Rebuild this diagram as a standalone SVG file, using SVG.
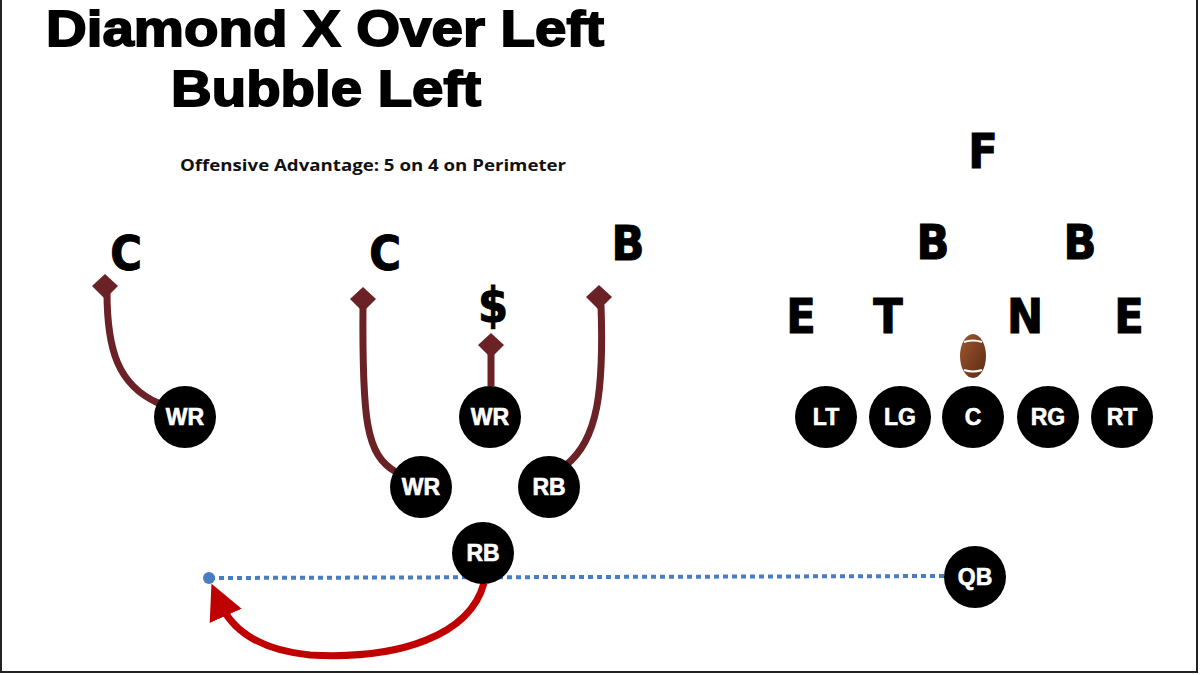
<svg xmlns="http://www.w3.org/2000/svg" width="1200" height="675" viewBox="0 0 1200 675">
<style>
.title{font-family:"Liberation Sans",Arial,sans-serif;font-weight:bold;font-size:50px;fill:#000;stroke:#000;stroke-width:1.8;text-anchor:middle}
.sub{font-family:"Open Sans","Noto Sans",sans-serif;font-weight:bold;font-size:16px;fill:#111}
.def{font-family:"DejaVu Sans Condensed","DejaVu Sans",sans-serif;font-stretch:condensed;font-weight:bold;font-size:48px;fill:#000;text-anchor:middle;stroke:#000;stroke-width:1}
.node circle{fill:#000}
.node text{font-family:"Liberation Sans",Arial,sans-serif;font-weight:bold;font-size:23px;fill:#fff;stroke:#fff;stroke-width:0.6;text-anchor:middle}
.route{fill:none;stroke:#6b2226;stroke-width:7}
.tip{fill:#6b2226}
</style>
<defs>
<linearGradient id="ball" x1="0" y1="0" x2="1" y2="1">
<stop offset="0" stop-color="#a0582d"/><stop offset="1" stop-color="#5a2a14"/>
</linearGradient>
<marker id="redArrow" viewBox="0 0 10 10" refX="4" refY="5" markerWidth="5" markerHeight="5" orient="auto-start-reverse" markerUnits="strokeWidth">
<path d="M0,0 L10,5 L0,10 z" fill="#c00000"/>
</marker>
</defs>
<rect x="1" y="-2" width="1196" height="674" fill="#fff" stroke="#222" stroke-width="2"/>
<text class="title" x="325" y="46" textLength="558" lengthAdjust="spacingAndGlyphs">Diamond X Over Left</text>
<text class="title" x="326" y="106" textLength="310" lengthAdjust="spacingAndGlyphs">Bubble Left</text>
<text class="sub" x="180" y="171" textLength="386" lengthAdjust="spacingAndGlyphs">Offensive Advantage: 5 on 4 on Perimeter</text>
<g id="defense">
<text class="def" x="126" y="270">C</text>
<text class="def" x="385" y="270">C</text>
<text class="def" x="628" y="260">B</text>
<text class="def" x="493" y="322">$</text>
<text class="def" x="983" y="168">F</text>
<text class="def" x="933" y="259">B</text>
<text class="def" x="1080" y="259">B</text>
<text class="def" x="801" y="333">E</text>
<text class="def" x="888" y="333">T</text>
<text class="def" x="1025" y="333">N</text>
<text class="def" x="1129" y="333">E</text>
</g>
<g id="connectors">
<path class="route" d="M158,403 C118,385 107,350 107,292"/>
<polygon class="tip" points="105,274 118,286 105,299 92,286"/>
<path class="route" d="M396,472 C366,455 362,420 363,305"/>
<polygon class="tip" points="363,287 376,299 363,312 350,299"/>
<path class="route" d="M491,386 L491,352"/>
<polygon class="tip" points="491,333 504,345 491,358 478,345"/>
<path class="route" d="M566,465 C598,440 604,390 601,305"/>
<polygon class="tip" points="599,285 612,297 599,310 586,297"/>
<line x1="210" y1="578" x2="945" y2="576" stroke="#4a7cc0" stroke-width="4" stroke-dasharray="5 4"/>
<circle cx="209" cy="578" r="6" fill="#4a7cc0"/>
<path d="M484,583 C470,635 400,660 310,655 C260,650 232,630 220,603" fill="none" stroke="#c00000" stroke-width="7" marker-end="url(#redArrow)"/>
</g>
<g id="football">
<ellipse cx="973" cy="356" rx="13" ry="22" fill="url(#ball)"/>
<path d="M964,342 Q973,339 982,342" stroke="#fff" stroke-width="2" fill="none"/>
<path d="M964,370 Q973,373 982,370" stroke="#fff" stroke-width="2" fill="none"/>
</g>
<g id="wr1" class="node"><circle cx="185" cy="417" r="31"/><text x="185" y="425">WR</text></g>
<g id="wr2" class="node"><circle cx="421" cy="487" r="31"/><text x="421" y="495">WR</text></g>
<g id="wr3" class="node"><circle cx="490" cy="417" r="31"/><text x="490" y="425">WR</text></g>
<g id="rb1" class="node"><circle cx="549" cy="487" r="31"/><text x="549" y="495">RB</text></g>
<g id="rb2" class="node"><circle cx="483" cy="553" r="31"/><text x="483" y="561">RB</text></g>
<g id="qb" class="node"><circle cx="975" cy="577" r="31"/><text x="975" y="585">QB</text></g>
<g id="lt" class="node"><circle cx="826" cy="417" r="31"/><text x="826" y="425">LT</text></g>
<g id="lg" class="node"><circle cx="900" cy="417" r="31"/><text x="900" y="425">LG</text></g>
<g id="c" class="node"><circle cx="973" cy="417" r="31"/><text x="973" y="425">C</text></g>
<g id="rg" class="node"><circle cx="1048" cy="417" r="31"/><text x="1048" y="425">RG</text></g>
<g id="rt" class="node"><circle cx="1122" cy="417" r="31"/><text x="1122" y="425">RT</text></g>
</svg>
